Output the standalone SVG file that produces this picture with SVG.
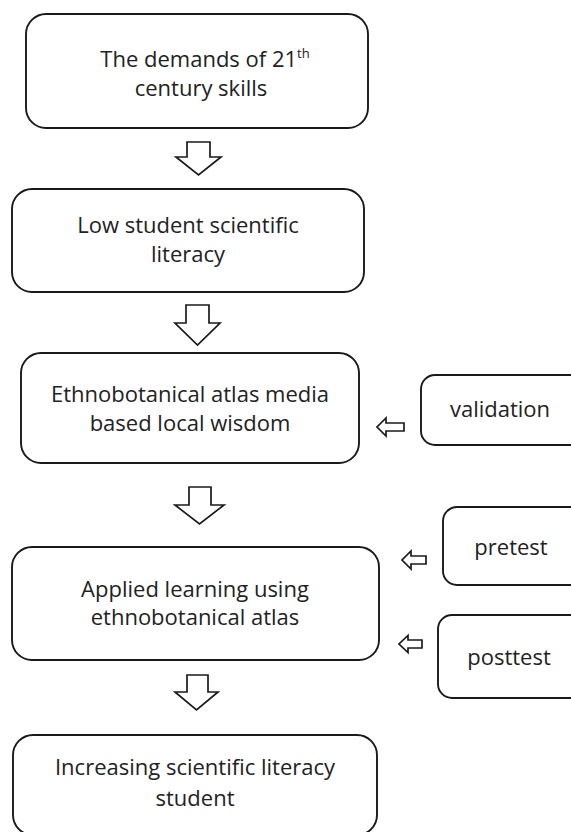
<svg xmlns="http://www.w3.org/2000/svg" width="571" height="832" viewBox="0 0 571 832">
<style>
.box{fill:#fff;stroke:#1a1a1a;stroke-width:1.9}
.arr{fill:#fff;stroke:#1a1a1a;stroke-width:1.7;stroke-linejoin:miter}
text{font-family:"Open Sans","Noto Sans",sans-serif;font-size:22px;fill:#222;text-anchor:middle}
.sup{font-size:13px}
</style>
<rect width="571" height="832" fill="#fff"/>
<g id="n1"><rect class="box" x="26" y="14" width="342" height="114" rx="20"/>
<text x="205" y="67">The demands of 21<tspan class="sup" dy="-9">th</tspan></text>
<text x="201" y="96">century skills</text></g>
<g id="n2"><rect class="box" x="12" y="189" width="352" height="103" rx="20"/>
<text x="188" y="233">Low student scientific</text>
<text x="188" y="262">literacy</text></g>
<g id="n3"><rect class="box" x="21" y="353" width="338" height="110" rx="20"/>
<text x="190" y="402">Ethnobotanical atlas media</text>
<text x="190" y="431">based local wisdom</text></g>
<g id="n4"><rect class="box" x="421" y="375" width="170" height="70" rx="14"/>
<text x="500" y="417">validation</text></g>
<g id="n5"><rect class="box" x="12" y="547" width="367" height="113" rx="20"/>
<text x="195" y="597">Applied learning using</text>
<text x="195" y="625">ethnobotanical atlas</text></g>
<g id="n6"><rect class="box" x="443" y="507" width="150" height="78" rx="14"/>
<text x="511" y="555">pretest</text></g>
<g id="n7"><rect class="box" x="438" y="615" width="155" height="83" rx="14"/>
<text x="509" y="665">posttest</text></g>
<g id="n8"><rect class="box" x="13" y="735" width="364" height="100" rx="20"/>
<text x="195" y="775">Increasing scientific literacy</text>
<text x="195" y="806">student</text></g>
<g id="connectors">
<path class="arr" d="M187,142 H210 V157 H221 L198.5,175 L176,157 H187 Z"/>
<path class="arr" d="M186,305 H209 V323 H220 L197.5,345 L175,323 H186 Z"/>
<path class="arr" d="M189,487 H211 V505 H224 L199.5,524 L175,505 H189 Z"/>
<path class="arr" d="M187,675 H208 V692 H218 L196.5,710 L175,692 H187 Z"/>
<path class="arr" d="M404,423 H386 V418 L377,427 L386,436 V431 H404 Z"/>
<path class="arr" d="M426,556 H411 V551 L402,560 L411,569 V564 H426 Z"/>
<path class="arr" d="M422,640 H408 V635.5 L399,644 L408,652.5 V648 H422 Z"/>
</g>
</svg>
